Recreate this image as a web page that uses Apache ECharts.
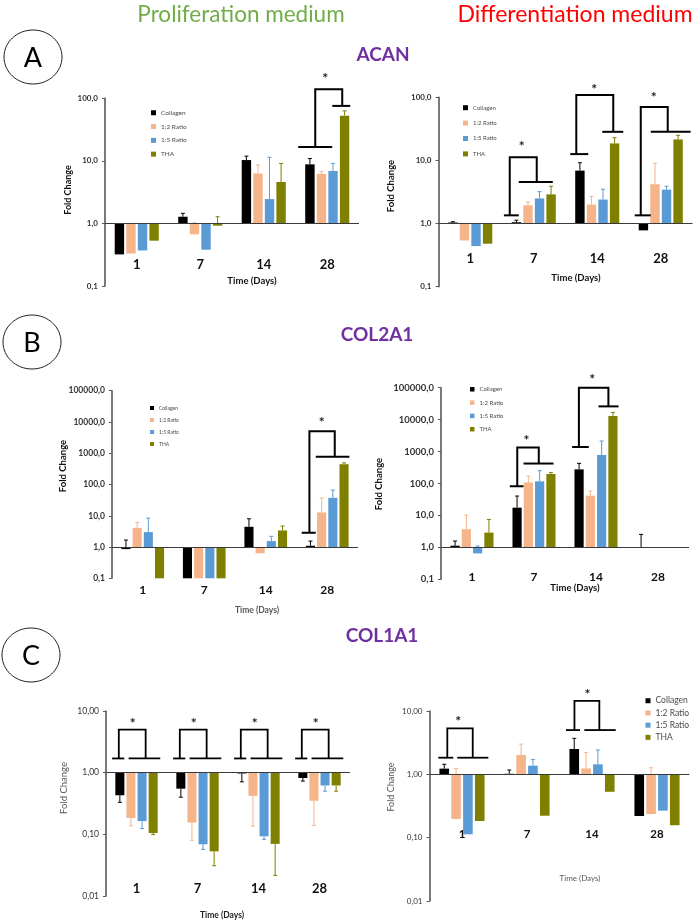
<!DOCTYPE html>
<html><head><meta charset="utf-8">
<script src="https://cdn.jsdelivr.net/npm/echarts/dist/echarts.min.js"></script>
<style>html,body{margin:0;padding:0;background:#fff}#c{width:694px;height:923px}</style>
</head><body><div id="c"></div>
<script>
// ---------------- data ----------------
const categories = ['1', '7', '14', '28'];
const seriesNames = ['Collagen', '1:2 Ratio', '1:5 Ratio', 'THA'];
const seriesColors = ['#000000', '#F6B48A', '#5B9BD5', '#7F7F00'];

// tick labels
const ticksAcan = ['0,1', '1,0', '10,0', '100,0'];
const ticksCol2 = ['0,1', '1,0', '10,0', '100,0', '1000,0', '10000,0', '100000,0'];
const ticksCol1 = ['0,01', '0,10', '1,00', '10,00'];

// ACAN – proliferation (rows = series, cols = days)
const acanProValues = [
  [0.32, 1.28, 10.3, 8.8],
  [0.33, 0.67, 6.3, 6.2],
  [0.37, 0.38, 2.45, 6.9],
  [0.53, 0.92, 4.6, 52.7]
];
const acanProErrors = [
  [null, 1.45, 11.9, 10.9],
  [null, 1.02, 8.6, 6.7],
  [null, null, 11.4, 9.1],
  [null, 1.28, 9.1, 63]
];
// ACAN – differentiation
const acanDifValues = [
  [1.04, 1.05, 6.9, 0.78],
  [0.54, 1.95, 2.0, 4.2],
  [0.44, 2.5, 2.4, 3.45],
  [0.48, 2.9, 18.6, 21.5]
];
const acanDifErrors = [
  [1.07, 1.13, 9.2, null],
  [null, 2.2, 2.7, 9.0],
  [null, 3.2, 3.5, 3.9],
  [null, 3.9, 22.9, 25]
];
// COL2A1 – proliferation
const col2ProValues = [
  [0.86, 0.1, 4.45, 1.1],
  [4.1, 0.1, 0.63, 12.8],
  [3.0, 0.1, 1.55, 37.5],
  [0.1, 0.1, 3.4, 445]
];
const col2ProErrors = [
  [1.67, null, 8.0, 1.55],
  [6.1, null, null, 37],
  [8.4, null, 2.2, 66],
  [null, null, 4.7, 490]
];
// COL2A1 – differentiation
const col2DifValues = [
  [1.13, 17.5, 277, 0.96],
  [3.7, 108, 41.5, null],
  [0.65, 117, 780, null],
  [2.9, 198, 12900, null]
];
const col2DifErrors = [
  [1.58, 40.5, 427, 2.55],
  [10.3, 170, 58, null],
  [1.1, 252, 2140, null],
  [7.5, 222, 16800, null]
];
// COL1A1 – proliferation
const col1ProValues = [
  [0.43, 0.55, 0.97, 0.82],
  [0.184, 0.155, 0.42, 0.35],
  [0.164, 0.069, 0.093, 0.62],
  [0.105, 0.053, 0.07, 0.62]
];
const col1ProErrors = [
  [0.33, 0.40, 0.71, 0.73],
  [0.137, 0.080, 0.136, 0.14],
  [0.124, 0.057, 0.083, 0.50],
  [0.099, 0.031, 0.0216, 0.50]
];
// COL1A1 – differentiation
const col1DifValues = [
  [1.23, 1.02, 2.51, 0.22],
  [0.197, 2.02, 1.24, 0.236],
  [0.113, 1.37, 1.44, 0.267],
  [0.183, 0.222, 0.53, 0.157]
];
const col1DifErrors = [
  [1.44, 1.17, 3.7, 0.33],
  [1.24, 3.0, 2.22, 1.27],
  [null, 1.72, 2.42, null],
  [null, null, null, null]
];

// significance brackets: [category, leftFrom, leftTo, leftLevel, leftStem, topLevel, rightStem, rightLevel, rightFrom, rightTo, starOffset, starLevel]
const acanProBrackets = [
  [3, -0.457, 0.079, 16.7, -0.189, 140, 0.236, 75.6, 0.079, 0.362, -0.03, 234]
];
const acanDifBrackets = [
  [1, -0.47, -0.236, 1.35, -0.378, 11.2, 0.047, 4.57, -0.236, 0.30, -0.19, 18.8],
  [2, -0.425, -0.142, 12.6, -0.33, 109, 0.252, 28.4, 0.079, 0.41, -0.047, 151],
  [3, -0.41, -0.157, 1.35, -0.315, 70, 0.11, 28.4, -0.157, 0.47, -0.11, 112]
];
const col2ProBrackets = [
  [3, -0.415, -0.187, 2.86, -0.29, 5080, 0.122, 767, -0.187, 0.36, -0.09, 12300]
];
const col2DifBrackets = [
  [1, -0.39, -0.17, 82, -0.27, 1330, 0.077, 422, -0.169, 0.315, -0.12, 2860],
  [2, -0.385, -0.116, 1390, -0.276, 100000, 0.2, 26000, 0.04, 0.363, -0.06, 225000]
];
const col1ProBrackets = [
  [0, -0.40, -0.20, 1.7, -0.29, 5.0, 0.15, 1.7, -0.13, 0.39, -0.06, 7.0],
  [1, -0.40, -0.20, 1.7, -0.29, 5.0, 0.15, 1.7, -0.13, 0.39, -0.06, 7.0],
  [2, -0.40, -0.20, 1.7, -0.29, 5.0, 0.15, 1.7, -0.13, 0.39, -0.06, 7.0],
  [3, -0.40, -0.20, 1.7, -0.29, 5.0, 0.15, 1.7, -0.13, 0.39, -0.06, 7.0]
];
const col1DifBrackets = [
  [0, -0.365, -0.134, 1.83, -0.226, 5.3, 0.165, 1.83, -0.072, 0.405, -0.06, 7.66],
  [2, -0.40, -0.185, 5.0, -0.27, 14.4, 0.113, 5.0, -0.118, 0.365, -0.07, 20.2]
];

// ---------------- layout / style ----------------
const FONT = 'Lato, "Open Sans", sans-serif';
const BAR_STEP = 0.182, BAR_W = 0.148;

const panels = [
  { vals: acanProValues, errs: acanProErrors, br: acanProBrackets, ticks: ticksAcan, ymin: 0.1, ymax: 100,
    grid: { left: 105, top: 98.3, width: 254, height: 187.7 }, tickFs: 8, tickBold: 'bold', catFs: 13, catMargin: -28, brW: 2,
    legend: { left: 151, top: 108.5, fs: 6.5, lh: 8.5, gap: 5.3, icon: 5 } },
  { vals: acanDifValues, errs: acanDifErrors, br: acanDifBrackets, ticks: ticksAcan, ymin: 0.1, ymax: 100,
    grid: { left: 438.5, top: 97.3, width: 254, height: 189.4 }, tickFs: 8, tickBold: 'bold', catFs: 13, catMargin: -34, brW: 2,
    legend: { left: 463, top: 103.7, fs: 6, lh: 8, gap: 7.4, icon: 5 } },
  { vals: col2ProValues, errs: col2ProErrors, br: col2ProBrackets, ticks: ticksCol2, ymin: 0.1, ymax: 100000,
    grid: { left: 112, top: 390.7, width: 246, height: 187.6 }, tickFs: 8.5, tickBold: 'bold', catFs: 12, catMargin: 6, brW: 2,
    legend: { left: 150, top: 404.5, fs: 5, lh: 7, gap: 5, icon: 4 } },
  { vals: col2DifValues, errs: col2DifErrors, br: col2DifBrackets, ticks: ticksCol2, ymin: 0.1, ymax: 100000,
    grid: { left: 441, top: 387.7, width: 248, height: 191.6 }, tickFs: 9.5, tickBold: 'bold', catFs: 12, catMargin: -8, brW: 2,
    legend: { left: 470, top: 385.3, fs: 6, lh: 8, gap: 5.3, icon: 4.5 } },
  { vals: col1ProValues, errs: col1ProErrors, br: col1ProBrackets, ticks: ticksCol1, ymin: 0.01, ymax: 10,
    grid: { left: 106, top: 711, width: 244, height: 185 }, tickFs: 8.5, tickBold: 'normal', catFs: 13, catMargin: -14, brW: 1.8,
    legend: null },
  { vals: col1DifValues, errs: col1DifErrors, br: col1DifBrackets, ticks: ticksCol1, ymin: 0.01, ymax: 10,
    grid: { left: 429.5, top: 711, width: 260, height: 190 }, tickFs: 8, tickBold: 'normal', catFs: 11.5, catMargin: -73, brW: 1.8,
    legend: { left: 645.5, top: 695.5, fs: 8.5, lh: 10.5, gap: 1.7, icon: 5 } }
];

function barRenderer(slot, color, errList) {
  return function (params, api) {
    const cat = api.value(0), v = api.value(1);
    if (v == null || isNaN(v)) return;
    const p0 = api.coord([cat, 1]);
    const p1 = api.coord([cat, v]);
    const band = api.coord([1, 1])[0] - api.coord([0, 1])[0];
    const cx = p0[0] + (slot - 1.5) * BAR_STEP * band;
    const w = BAR_W * band;
    const children = [{
      type: 'rect',
      shape: { x: cx - w / 2, y: Math.min(p0[1], p1[1]), width: w, height: Math.abs(p1[1] - p0[1]) },
      style: { fill: color }
    }];
    const e = errList[params.dataIndex];
    if (e != null) {
      const pe = api.coord([cat, e]);
      children.push({ type: 'line', shape: { x1: cx, y1: p1[1], x2: cx, y2: pe[1] }, style: { stroke: color, lineWidth: 1 } });
      children.push({ type: 'line', shape: { x1: cx - 2, y1: pe[1], x2: cx + 2, y2: pe[1] }, style: { stroke: color, lineWidth: 1 } });
    }
    return { type: 'group', children };
  };
}

function bracketRenderer(list, lw) {
  return function (params, api) {
    const b = list[params.dataIndex];
    const c0 = api.coord([b[0], 1])[0];
    const band = api.coord([1, 1])[0] - api.coord([0, 1])[0];
    const X = f => c0 + f * band;
    const Y = v => api.coord([b[0], v])[1];
    const st = { stroke: '#000', lineWidth: lw, fill: null };
    return {
      type: 'group', children: [
        { type: 'polyline', shape: { points: [[X(b[1]), Y(b[3])], [X(b[2]), Y(b[3])]] }, style: st },
        { type: 'polyline', shape: { points: [[X(b[4]), Y(b[3])], [X(b[4]), Y(b[5])], [X(b[6]), Y(b[5])], [X(b[6]), Y(b[7])]] }, style: st },
        { type: 'polyline', shape: { points: [[X(b[8]), Y(b[7])], [X(b[9]), Y(b[7])]] }, style: st },
        { type: 'text', style: { text: '*', x: X(b[10]), y: Y(b[11]) + 3, align: 'center', verticalAlign: 'middle', font: 'bold 14px ' + FONT, fill: '#222' } }
      ]
    };
  };
}

const option = {
  backgroundColor: '#fff',
  animation: false,
  grid: [], xAxis: [], yAxis: [], series: [], legend: [], graphic: []
};

panels.forEach((p, i) => {
  option.grid.push(Object.assign({ containLabel: false }, p.grid));
  option.xAxis.push({
    type: 'category', gridIndex: i, data: categories,
    axisLine: { show: false }, axisTick: { show: false }, splitLine: { show: false },
    axisLabel: { margin: p.catMargin, fontSize: p.catFs, fontWeight: 'bold', color: '#111', fontFamily: FONT }
  });
  const minExp = Math.round(Math.log10(p.ymin));
  option.yAxis.push({
    type: 'log', logBase: 10, gridIndex: i, min: p.ymin, max: p.ymax, interval: 1,
    axisLine: { show: true, lineStyle: { color: '#595959', width: 1.6 } },
    axisTick: { show: true, length: 3, lineStyle: { color: '#595959' } },
    splitLine: { show: false },
    axisLabel: {
      margin: 7, fontSize: p.tickFs, fontWeight: p.tickBold, color: '#333', fontFamily: FONT,
      formatter: v => p.ticks[Math.round(Math.log10(v)) - minExp] || ''
    }
  });
  p.vals.forEach((row, s) => {
    const ser = {
      type: 'custom', name: seriesNames[s], xAxisIndex: i, yAxisIndex: i,
      itemStyle: { color: seriesColors[s] },
      renderItem: barRenderer(s, seriesColors[s], p.errs[s]),
      data: categories.map((c, k) => [k, row[k]]),
      encode: { x: 0, y: 1 }, silent: true, z: 2
    };
    if (s === 0) {
      ser.markLine = {
        silent: true, symbol: 'none', animation: false,
        label: { show: false },
        lineStyle: { color: '#3a3a3a', width: 1.2, type: 'solid' },
        data: [{ yAxis: 1 }]
      };
    }
    option.series.push(ser);
  });
  option.series.push({
    type: 'custom', name: 'brackets' + i, xAxisIndex: i, yAxisIndex: i,
    renderItem: bracketRenderer(p.br, p.brW),
    data: p.br.map(b => [b[0], b[3]]),
    encode: { x: 0, y: 1 }, silent: true, z: 3
  });
  if (p.legend) {
    const L = p.legend;
    option.legend.push({
      data: seriesNames, orient: 'vertical', left: L.left, top: L.top, padding: 0,
      itemWidth: L.icon, itemHeight: L.icon, itemGap: L.gap, icon: 'rect', selectedMode: false,
      textStyle: { fontSize: L.fs, lineHeight: L.lh, color: '#4a4a4a', fontFamily: FONT }
    });
  }
});

function txt(text, x, y, font, fill, rot) {
  return {
    type: 'text', x: x, y: y, rotation: rot || 0, silent: true,
    style: { text, font, fill, align: 'center', verticalAlign: 'middle' }
  };
}
const G = option.graphic;
G.push(txt('Proliferation medium', 241, 15, '22.5px ' + FONT, '#70AD47'));
G.push(txt('Differentiation medium', 575, 15, '23px ' + FONT, '#FF0000'));
[['A', 33, 57], ['B', 32, 342], ['C', 31, 655]].forEach(([t, x, y]) => {
  G.push({ type: 'ellipse', shape: { cx: x, cy: y, rx: 29, ry: 27 }, style: { fill: 'none', stroke: '#222', lineWidth: 1 }, silent: true });
  G.push(txt(t, x, y + 1, '27px ' + FONT, '#000'));
});
G.push(txt('ACAN', 383, 55, 'bold 19px ' + FONT, '#7030A0'));
G.push(txt('COL2A1', 377, 335, 'bold 19px ' + FONT, '#7030A0'));
G.push(txt('COL1A1', 382, 636, 'bold 19px ' + FONT, '#7030A0'));
// axis titles
G.push(txt('Fold Change', 68, 190, 'bold 9px ' + FONT, '#111', Math.PI / 2));
G.push(txt('Fold Change', 391, 186, 'bold 9.5px ' + FONT, '#111', Math.PI / 2));
G.push(txt('Fold Change', 63, 466, 'bold 9.5px ' + FONT, '#111', Math.PI / 2));
G.push(txt('Fold Change', 379, 484, 'bold 9.5px ' + FONT, '#111', Math.PI / 2));
G.push(txt('Fold Change', 64, 788, '9.5px ' + FONT, '#595959', Math.PI / 2));
G.push(txt('Fold Change', 391, 787, '9px ' + FONT, '#595959', Math.PI / 2));
G.push(txt('Time (Days)', 252, 281, 'bold 9.5px ' + FONT, '#111'));
G.push(txt('Time (Days)', 576, 278, 'bold 9.5px ' + FONT, '#111'));
G.push(txt('Time (Days)', 257, 610, 'bold 8.5px ' + FONT, '#595959'));
G.push(txt('Time (Days)', 575, 588, 'bold 9.5px ' + FONT, '#111'));
G.push(txt('Time (Days)', 222, 915, 'bold 8.5px ' + FONT, '#222'));
G.push(txt('Time (Days)', 580, 878, '8px ' + FONT, '#595959'));

const chart = echarts.init(document.getElementById('c'), null, { renderer: 'canvas' });
chart.setOption(option);
</script>
</body></html>
